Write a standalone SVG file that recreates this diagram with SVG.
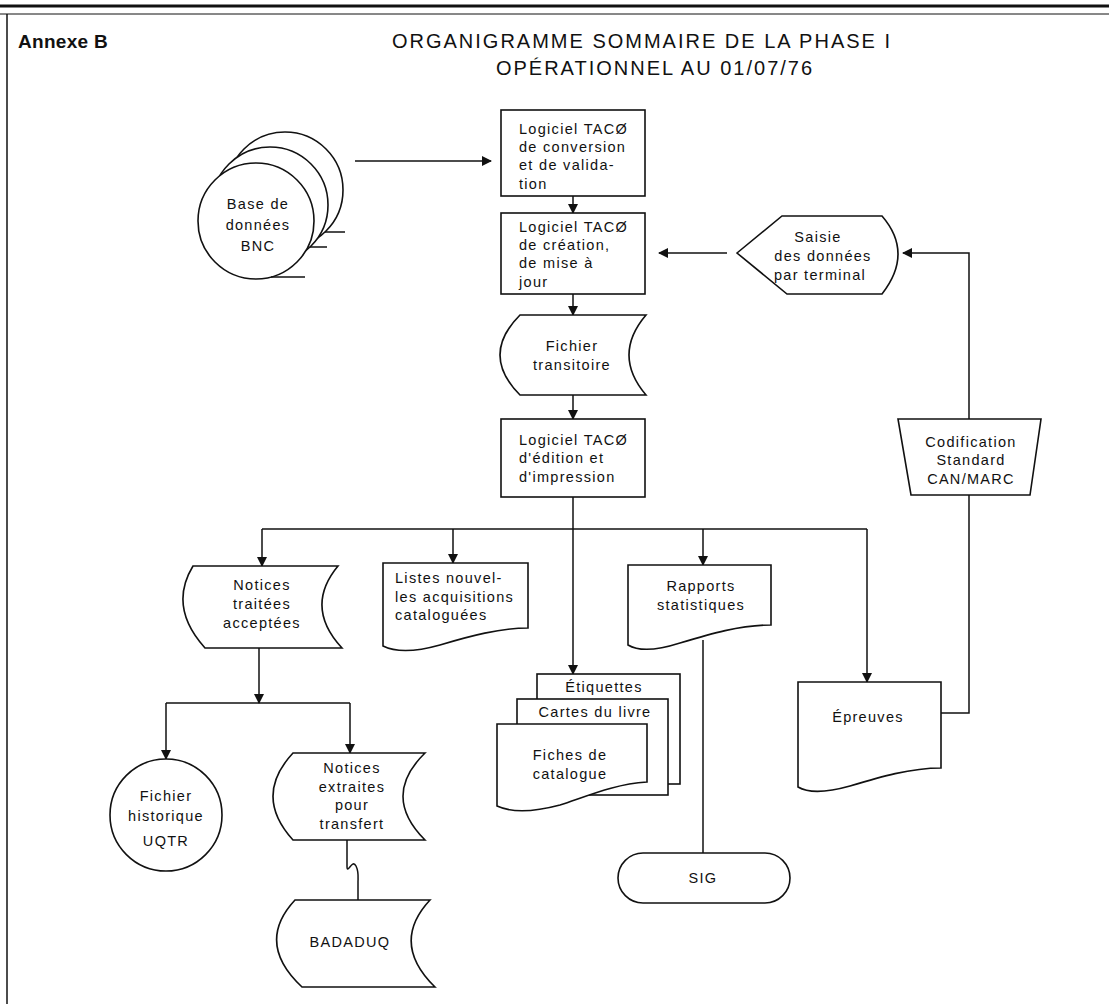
<svg xmlns="http://www.w3.org/2000/svg" width="1109" height="1004" viewBox="0 0 1109 1004">
<defs>
<marker id="ah" markerWidth="10" markerHeight="10" refX="9" refY="5" orient="auto" markerUnits="userSpaceOnUse">
<path d="M0,0 L10,5 L0,10 Z" fill="#111"/>
</marker>
<style>
.s{fill:#fff;stroke:#111;stroke-width:1.6}
.l{fill:none;stroke:#111;stroke-width:1.5}
.a{fill:none;stroke:#111;stroke-width:1.5;marker-end:url(#ah)}
text{font-family:"Liberation Sans",Arial,sans-serif;font-size:14.5px;letter-spacing:1.3px;fill:#111}
.c{text-anchor:middle}
.t{font-size:20px;letter-spacing:2px}
.b{font-weight:bold;font-size:19px;letter-spacing:0.3px}
</style>
</defs>
<rect width="1109" height="1004" fill="#fff"/>
<g id="frame">
<line x1="0" y1="6" x2="1109" y2="6" stroke="#111" stroke-width="3"/>
<line x1="0" y1="14" x2="1109" y2="14" stroke="#111" stroke-width="1"/>
<line x1="7" y1="14" x2="7" y2="1004" stroke="#111" stroke-width="1.5"/>
<text class="b" x="18" y="48">Annexe B</text>
<text class="t c" x="642" y="48">ORGANIGRAMME SOMMAIRE DE LA PHASE I</text>
<text class="t c" x="655" y="75">OPÉRATIONNEL AU 01/07/76</text>
</g>
<g id="connectors">
<line class="a" x1="355" y1="161" x2="491" y2="161"/>
<line class="a" x1="573" y1="196" x2="573" y2="213"/>
<line class="a" x1="573" y1="294" x2="573" y2="315"/>
<line class="a" x1="573" y1="395" x2="573" y2="419"/>
<line class="a" x1="727" y1="253" x2="659" y2="253"/>
<polyline class="a" points="969,419 969,253 903,253"/>
<polyline class="l" points="969,495 969,713 941,713"/>
<line class="a" x1="573" y1="497" x2="573" y2="674"/>
<line class="l" x1="262" y1="529" x2="867" y2="529"/>
<line class="a" x1="262" y1="529" x2="262" y2="566"/>
<line class="a" x1="453" y1="529" x2="453" y2="563"/>
<line class="a" x1="703" y1="529" x2="703" y2="565"/>
<line class="a" x1="867" y1="529" x2="867" y2="682"/>
<line class="l" x1="703" y1="640" x2="703" y2="853"/>
<line class="a" x1="259" y1="648" x2="259" y2="703"/>
<polyline class="l" points="166,703 350,703"/>
<line class="a" x1="166" y1="703" x2="166" y2="759"/>
<line class="a" x1="350" y1="703" x2="350" y2="753"/>
<path class="l" d="M347,840 V866 C347,876 352,858 356,866 C359,872 358,878 358,882 V900"/>
</g>
<g id="bnc">
<circle class="s" cx="285" cy="190" r="58"/>
<line class="l" x1="325" y1="232" x2="345" y2="232"/>
<circle class="s" cx="270" cy="205" r="58"/>
<line class="l" x1="310" y1="247" x2="327" y2="247"/>
<circle class="s" cx="256" cy="221" r="58"/>
<line class="l" x1="271" y1="277" x2="305" y2="277"/>
<text class="c" x="258" y="209">Base de</text>
<text class="c" x="258" y="230">données</text>
<text class="c" x="258" y="251">BNC</text>
</g>
<g id="taco-conversion">
<rect class="s" x="501" y="110" width="144" height="86"/>
<text x="519" y="134">Logiciel TACØ</text>
<text x="519" y="152">de conversion</text>
<text x="519" y="170">et de valida-</text>
<text x="519" y="189">tion</text>
</g>
<g id="taco-creation">
<rect class="s" x="501" y="213" width="144" height="81"/>
<text x="519" y="232">Logiciel TACØ</text>
<text x="519" y="250">de création,</text>
<text x="519" y="268">de mise à</text>
<text x="519" y="287">jour</text>
</g>
<g id="saisie">
<path class="s" d="M737,253 L782,216 H882 Q914,253 882,294 H787 Z"/>
<text class="c" x="818" y="242">Saisie</text>
<text class="c" x="823" y="261">des données</text>
<text class="c" x="820" y="280">par terminal</text>
</g>
<g id="fichier-transitoire">
<path class="s" d="M520,315 H646 Q612,355 646,395 H520 Q480,355 520,315 Z"/>
<text class="c" x="572" y="351">Fichier</text>
<text class="c" x="572" y="370">transitoire</text>
</g>
<g id="taco-edition">
<rect class="s" x="501" y="419" width="144" height="78"/>
<text x="519" y="445">Logiciel TACØ</text>
<text x="519" y="463">d'édition et</text>
<text x="519" y="482">d'impression</text>
</g>
<g id="codification">
<path class="s" d="M898,419 H1041 L1030,495 H911 Z"/>
<text class="c" x="971" y="447">Codification</text>
<text class="c" x="971" y="465">Standard</text>
<text class="c" x="971" y="484">CAN/MARC</text>
</g>
<g id="notices-traitees">
<path class="s" d="M193,566 H338 Q304,607 342,648 H205 Q168,607 193,566 Z"/>
<text class="c" x="262" y="590">Notices</text>
<text class="c" x="262" y="609">traitées</text>
<text class="c" x="262" y="628">acceptées</text>
</g>
<g id="listes">
<path class="s" d="M383,563 H528 V628 C500,628 470,636 440,645 C415,652 395,652 383,646 Z"/>
<text x="395" y="583">Listes nouvel-</text>
<text x="395" y="602">les acquisitions</text>
<text x="395" y="620">cataloguées</text>
</g>
<g id="rapports">
<path class="s" d="M628,565 H771 V625 C740,625 710,634 680,643 C655,651 638,651 628,645 Z"/>
<text class="c" x="701" y="591">Rapports</text>
<text class="c" x="701" y="610">statistiques</text>
</g>
<g id="epreuves">
<path class="s" d="M798,682 H941 V768 C910,768 880,777 850,786 C825,793 808,793 798,787 Z"/>
<text class="c" x="868" y="722">Épreuves</text>
</g>
<g id="fiches-stack">
<rect class="s" x="537" y="674" width="143" height="110"/>
<text class="c" x="604" y="692">Étiquettes</text>
<rect class="s" x="517" y="699" width="151" height="96"/>
<text class="c" x="595" y="717">Cartes du livre</text>
<path class="s" d="M497,724 H647 V782 C615,784 590,795 560,805 C530,813 510,812 497,806 Z"/>
<text class="c" x="570" y="760">Fiches de</text>
<text class="c" x="570" y="779">catalogue</text>
</g>
<g id="fichier-historique">
<circle class="s" cx="166" cy="815" r="56"/>
<text class="c" x="166" y="801">Fichier</text>
<text class="c" x="166" y="821">historique</text>
<text class="c" x="166" y="846">UQTR</text>
</g>
<g id="notices-extraites">
<path class="s" d="M293,753 H425 Q381,796 425,840 H293 Q253,796 293,753 Z"/>
<text class="c" x="352" y="773">Notices</text>
<text class="c" x="352" y="792">extraites</text>
<text class="c" x="352" y="810">pour</text>
<text class="c" x="352" y="829">transfert</text>
</g>
<g id="sig">
<rect class="s" x="618" y="853" width="172" height="50" rx="25"/>
<text class="c" x="703" y="883">SIG</text>
</g>
<g id="badaduq">
<path class="s" d="M295,900 H430 Q390,943 435,987 H302 Q255,943 295,900 Z"/>
<text class="c" x="350" y="947">BADADUQ</text>
</g>
</svg>
